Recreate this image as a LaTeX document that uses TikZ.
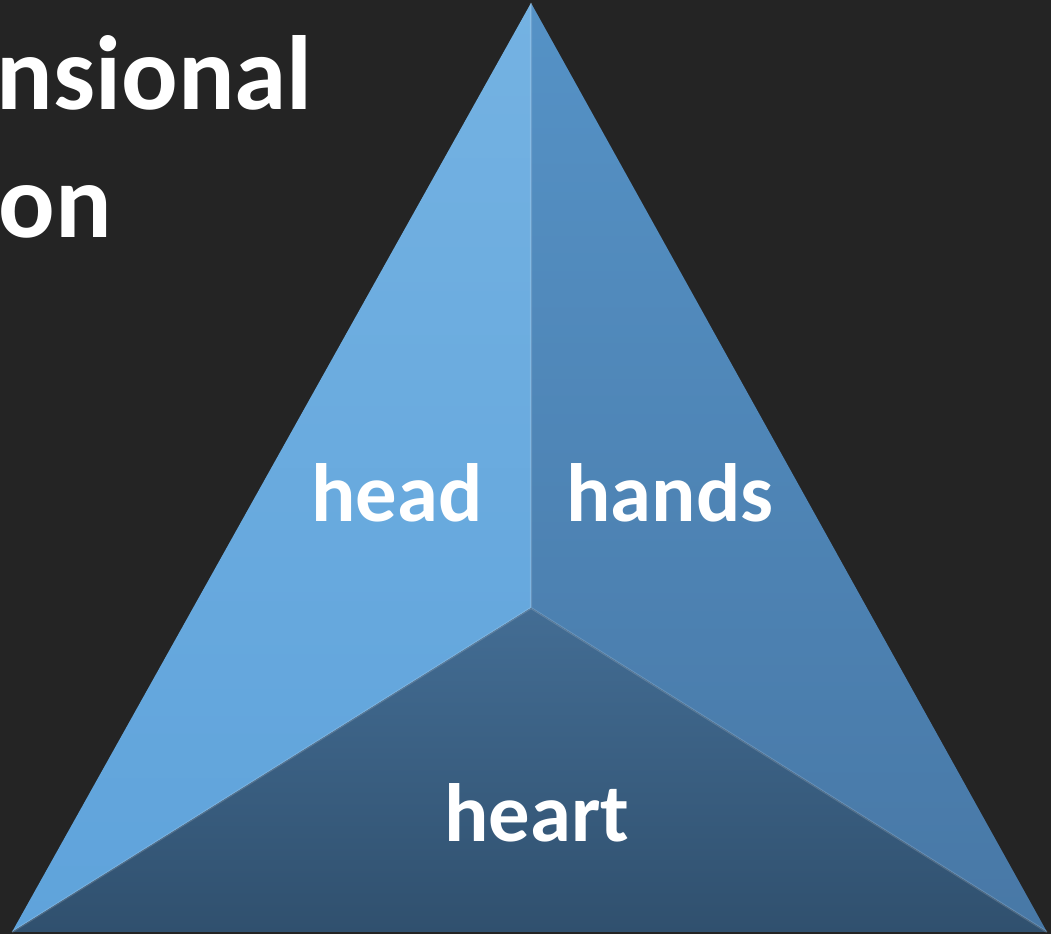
\documentclass[tikz,border=0pt]{standalone}
\usepackage{fontspec}
\setmainfont{Carlito}
\usepackage{xcolor}
\usepackage{tikz}
\usetikzlibrary{positioning}
\definecolor{board}{HTML}{242424}
\definecolor{headtop}{HTML}{74B2E2}
\definecolor{headbot}{HTML}{5FA3DB}
\definecolor{handstop}{HTML}{5592C6}
\definecolor{handsbot}{HTML}{4878A6}
\definecolor{hearttop}{HTML}{436D94}
\definecolor{heartbot}{HTML}{30506E}

\begin{document}
\begin{tikzpicture}[x=0.01cm, y=-0.01cm,
        facelabel/.style={text=white, font=\fontsize{23.5}{28}\selectfont\bfseries},
        titletext/.style={text=white, anchor=base west, inner sep=0pt,
              font=\fontsize{30}{36}\selectfont\bfseries}]
        \fill[board] (0,0) rectangle (1051,934);
        \useasboundingbox (0,0) rectangle (1051,934);
        \coordinate (apex) at (531,3);
        \coordinate (left) at (12,932);
        \coordinate (right) at (1047,932);
        \coordinate (mid) at (531,608);
        % the three faces
        \shade[top color=headtop, bottom color=headbot] (apex) -- (mid) -- (left) -- cycle;
        \shade[top color=handstop, bottom color=handsbot] (apex) -- (right) -- (mid) -- cycle;
        \shade[top color=hearttop, bottom color=heartbot] (mid) -- (right) -- (left) -- cycle;
        \draw[white, opacity=0.15, line width=0.6pt] (apex) -- (mid) (left) -- (mid) -- (right);
        \node[titletext] (line1) at (-4,110) {nsional};
        \node[titletext] (line2) at (-2,238) {on};
        \node[facelabel] (head) at (397,493) {head};
        \node[facelabel] (hands) at (670,493) {hands};
        \node[facelabel] (heart) at (537,813) {heart};
    \end{tikzpicture}
\end{document}
